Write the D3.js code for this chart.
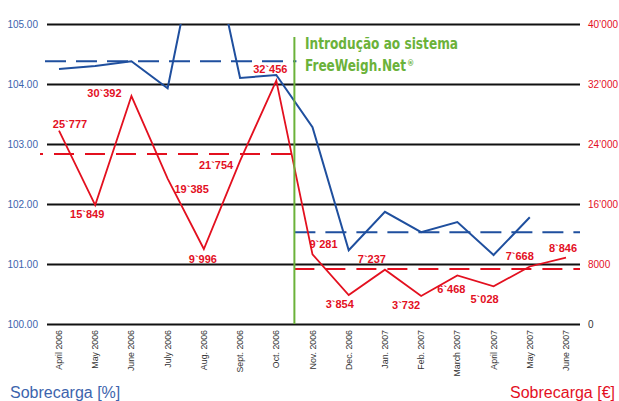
<!DOCTYPE html>
<html>
<head>
<meta charset="utf-8">
<script src="https://cdn.jsdelivr.net/npm/d3@7"></script>
<style>
  body { margin: 0; background: #fff; }
  svg { display: block; font-family: "Liberation Sans", Arial, sans-serif; }
</style>
</head>
<body>
<svg id="chart" width="619" height="401"></svg>
<script>
// months on the x axis
var months = ["April 2006", "May 2006", "June 2006", "July 2006", "Aug. 2006", "Sept. 2006",
  "Oct. 2006", "Nov. 2006", "Dec. 2006", "Jan. 2007", "Feb. 2007", "March 2007",
  "April 2007", "May 2007", "June 2007"];
// overfill in percent (left axis), June 2007 has no value
var overfillPct = [104.25, 104.30, 104.38, 103.93, 106.90, 104.10, 104.15, 103.28,
  101.23, 101.87, 101.53, 101.70, 101.15, 101.78, null];
// overfill cost in euro (right axis)
var overfillEur = [25777, 15849, 30392, 19385, 9996, 21754, 32456, 9281,
  3854, 7237, 3732, 6468, 5028, 7668, 8846];
// averages before / after the introduction
var avgPct = [104.38, 101.53];
var avgEur = [22667, 7333];
var pctTicks = [100, 101, 102, 103, 104, 105];
var eurTicks = [0, 8000, 16000, 24000, 32000, 40000];

// label placement around each red point (dx, dy of label centre/baseline)
var labelOffsets = [[11, -3], [-8, 13], [-27, 1], [24, 14], [-1, 14], [-24, 8], [-6, -8],
  [11, -6], [-9, 13], [-13, -7], [-15, 13], [-6, 18], [-9, 17], [-10, -6], [-3, -6]];

var blue = "#1f4f9e", red = "#e3101f", green = "#6bb23a", axisBlue = "#3c64ad";
var plotL = 47, plotR = 580, plotT = 24, plotB = 324;

var svg = d3.select("#chart");

var x = d3.scalePoint().domain(months).range([59, 566]);
var yL = d3.scaleLinear().domain([100, 105]).range([plotB, plotT]);
var yR = d3.scaleLinear().domain([0, 40000]).range([plotB, plotT]);

svg.append("defs").append("clipPath").attr("id", "plot")
  .append("rect").attr("x", 0).attr("y", plotT).attr("width", 619).attr("height", plotB - plotT + 10);

// gridlines + left labels
var gl = svg.append("g").attr("transform", "translate(" + plotR + ",0)")
  .call(d3.axisLeft(yL).tickValues(pctTicks).tickSize(plotR - plotL).tickPadding(9)
    .tickFormat(d3.format(".2f")));
gl.select(".domain").remove();
gl.selectAll("line").attr("stroke", "#111").attr("stroke-width", 2);
gl.selectAll("text").attr("fill", axisBlue).attr("font-size", 10);

// right labels
function eurFmt(v) { return v < 10000 ? String(v) : d3.format(",")(v).replace(",", "\u2019"); }
var gr = svg.append("g").attr("transform", "translate(" + plotR + ",0)")
  .call(d3.axisRight(yR).tickValues(eurTicks).tickSize(0).tickPadding(8).tickFormat(eurFmt));
gr.select(".domain").remove();
gr.selectAll("text").attr("fill", function(d) { return d === 0 ? "#333" : red; })
  .attr("font-size", 10);

// month labels, rotated
svg.append("g").selectAll("text").data(months).enter().append("text")
  .attr("transform", function(d) { return "translate(" + (x(d) + 3) + ",330) rotate(-90)"; })
  .attr("text-anchor", "end")
  .attr("font-size", 8.8)
  .attr("fill", "#333")
  .text(function(d) { return d; });

// average lines (dashed)
var split = (x(months[6]) + x(months[7])) / 2;
var plot = svg.append("g").attr("clip-path", "url(#plot)");
plot.append("line").attr("x1", 45).attr("x2", split + 2).attr("y1", yL(avgPct[0])).attr("y2", yL(avgPct[0]))
  .attr("stroke", blue).attr("stroke-width", 2).attr("stroke-dasharray", "21,10");
plot.append("line").attr("x1", split).attr("x2", plotR).attr("y1", yL(avgPct[1])).attr("y2", yL(avgPct[1]))
  .attr("stroke", blue).attr("stroke-width", 2).attr("stroke-dasharray", "21,10");
plot.append("line").attr("x1", 40).attr("x2", split - 2).attr("y1", yR(avgEur[0])).attr("y2", yR(avgEur[0]))
  .attr("stroke", red).attr("stroke-width", 2).attr("stroke-dasharray", "20,11").attr("stroke-dashoffset", 17);
plot.append("line").attr("x1", split).attr("x2", plotR).attr("y1", yR(avgEur[1])).attr("y2", yR(avgEur[1]))
  .attr("stroke", red).attr("stroke-width", 2).attr("stroke-dasharray", "20,11");

// series lines
var pctLine = d3.line()
  .defined(function(d) { return d != null; })
  .x(function(d, i) { return x(months[i]); })
  .y(function(d) { return yL(d); });
var eurLine = d3.line()
  .x(function(d, i) { return x(months[i]); })
  .y(function(d) { return yR(d); });

plot.append("path").datum(overfillPct).attr("d", pctLine)
  .attr("fill", "none").attr("stroke", blue).attr("stroke-width", 2);
plot.append("path").datum(overfillEur).attr("d", eurLine)
  .attr("fill", "none").attr("stroke", red).attr("stroke-width", 1.8);

// introduction marker
svg.append("line").attr("x1", split).attr("x2", split).attr("y1", 37).attr("y2", plotB)
  .attr("stroke", green).attr("stroke-width", 2);
var note = svg.append("g").attr("fill", green).attr("font-weight", "bold")
  .attr("font-family", "'DejaVu Sans Condensed', 'Liberation Sans Narrow', sans-serif")
  .attr("font-size", 16);
note.append("text").attr("x", 305).attr("y", 49)
  .attr("textLength", 153).attr("lengthAdjust", "spacingAndGlyphs")
  .text("Introdução ao sistema");
note.append("text").attr("x", 305).attr("y", 71)
  .attr("textLength", 101).attr("lengthAdjust", "spacingAndGlyphs")
  .text("FreeWeigh.Net");
note.append("text").attr("x", 407).attr("y", 66).attr("font-size", 8)
  .text("®");

// value labels
svg.append("g").selectAll("text").data(overfillEur).enter().append("text")
  .attr("x", function(d, i) { return x(months[i]) + labelOffsets[i][0]; })
  .attr("y", function(d, i) { return yR(d) + labelOffsets[i][1]; })
  .attr("text-anchor", "middle")
  .attr("font-size", 11).attr("font-weight", "bold").attr("fill", red)
  .text(function(d) { return d3.format(",")(d).replace(",", "`"); });

// axis titles
svg.append("text").attr("x", 10).attr("y", 398).attr("font-size", 16).attr("fill", axisBlue)
  .text("Sobrecarga [%]");
svg.append("text").attr("x", 615).attr("y", 398).attr("text-anchor", "end")
  .attr("font-size", 16).attr("fill", red)
  .text("Sobrecarga [€]");
</script>
</body>
</html>
